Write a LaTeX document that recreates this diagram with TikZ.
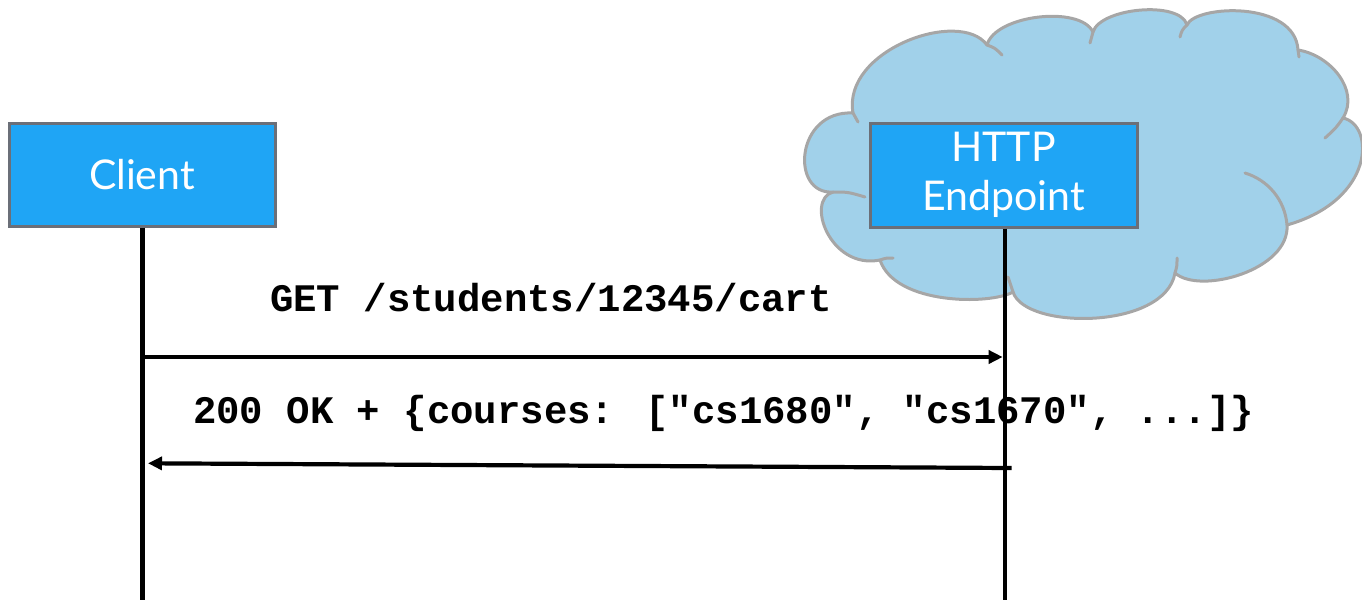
\documentclass[tikz,border=0pt]{standalone}
\usepackage{fontspec}
\usetikzlibrary{arrows.meta}
\newfontfamily\boxfont{Lato}
\newfontfamily\codefont{Liberation Mono}
\definecolor{cloudfill}{HTML}{A1D1EA}
\definecolor{cloudline}{HTML}{A6A6A6}
\definecolor{boxfill}{HTML}{1FA5F5}
\definecolor{boxline}{HTML}{6B6F78}

\begin{document}
\begin{tikzpicture}[x=1pt,y=-1pt,
  actor/.style={draw=boxline, line width=3pt, fill=boxfill, text=white,
    font=\boxfont\fontsize{41}{49}\selectfont, align=center, inner sep=0pt},
  lifeline/.style={line width=4.6pt, black},
  msg/.style={line width=4.2pt, black, -{Triangle[length=14pt,width=13pt]}},
  msgtext/.style={font=\codefont\bfseries\fontsize{39}{39}\selectfont,
    anchor=base, inner sep=0pt},
  cloudshape/.style={draw=cloudline, fill=cloudfill, line width=3pt, line join=round},
  cloudhook/.style={draw=cloudline, line width=3pt, line cap=round}]
\useasboundingbox (0,0) rectangle (1362,600);

% cloud behind the server
\path[cloudshape]
  (853,113) .. controls (842,50) and (960,8) .. (987,45)
  .. controls (995,15) and (1080,5) .. (1093,32)
  .. controls (1100,8) and (1180,0) .. (1187,25)
  .. controls (1195,5) and (1295,0) .. (1298,50)
  .. controls (1330,55) and (1360,90) .. (1343,118)
  .. controls (1375,125) and (1375,200) .. (1287,225)
  .. controls (1290,270) and (1200,295) .. (1175,273)
  .. controls (1165,330) and (1025,330) .. (1013,292)
  .. controls (990,305) and (895,305) .. (880,260)
  .. controls (830,270) and (805,200) .. (833,192)
  .. controls (790,195) and (795,110) .. (853,113) -- cycle;
% inner ends of the cloud arcs
\path[cloudhook] (853,113) .. controls (856,117) .. (858,122);
\path[cloudhook] (833,192) .. controls (848,192) .. (865,197);
\path[cloudhook] (880,260) .. controls (886,258) .. (893,258);
\path[cloudhook] (1013,292) .. controls (1010,285) .. (1008,277);
\path[cloudhook] (1175,273) .. controls (1177,266) .. (1177,258);
\path[cloudhook] (1287,225) .. controls (1285,200) and (1268,180) .. (1245,173);
\path[cloudhook] (1343,118) .. controls (1336,128) .. (1325,138);
\path[cloudhook] (1298,50) -- (1299,57);
\path[cloudhook] (1187,25) .. controls (1182,30) .. (1180,37);
\path[cloudhook] (1093,32) .. controls (1091,37) .. (1090,43);
\path[cloudhook] (987,45) .. controls (995,48) .. (1002,55);

% participants
\node[actor, minimum width=266pt, minimum height=103pt] (client) at (142,174.5) {Client};
\node[actor, minimum width=267pt, minimum height=104pt] (server) at (1003.5,175) {HTTP\\Endpoint};

% lifelines
\coordinate (clientEnd) at (142.5,600);
\coordinate (serverEnd) at (1005,600);
\draw[lifeline] (client.south -| clientEnd) -- (clientEnd);
\draw[lifeline] (server.south -| serverEnd) -- (serverEnd);

% messages
\coordinate (reqFrom) at (142.5,357);
\coordinate (reqTo) at (1002.7,357);
\coordinate (resFrom) at (1011.5,468);
\coordinate (resTo) at (148,463.3);
\draw[msg] (reqFrom) -- (reqTo);
\draw[msg] (resFrom) -- (resTo);

\node[msgtext] (reqLabel) at (551,311) {GET /students/12345/cart};
\node[msgtext] (resLabel) at (723.5,423.5) {200 OK + \{courses: ["cs1680", "cs1670", ...]\}};
\end{tikzpicture}
\end{document}
